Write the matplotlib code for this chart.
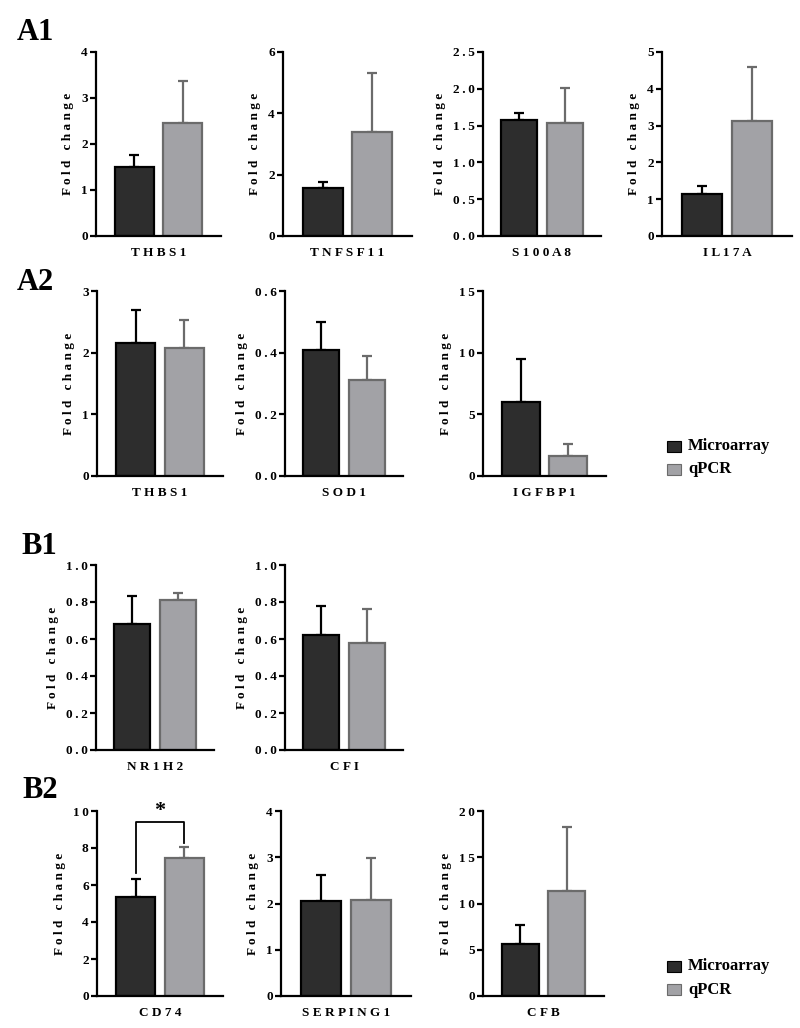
import matplotlib
matplotlib.use('Agg')
import matplotlib.pyplot as plt
from matplotlib.patches import Rectangle
import numpy as np

plt.rcParams['font.family'] = ['Liberation Serif', 'DejaVu Serif']
plt.rcParams['font.weight'] = 'bold'

# ---------------- data ----------------
genes = ['THBS1', 'TNFSF11', 'S100A8', 'IL17A',
         'THBS1', 'SOD1', 'IGFBP1',
         'NR1H2', 'CFI',
         'CD74', 'SERPING1', 'CFB']
series = ['Microarray', 'qPCR']
micro_mean = [1.50, 1.56, 1.57, 1.15, 2.15, 0.41, 6.0, 0.68, 0.62, 5.35, 2.05, 5.6]
micro_top = [1.76, 1.75, 1.67, 1.35, 2.70, 0.50, 9.5, 0.83, 0.78, 6.30, 2.62, 7.65]
qpcr_mean = [2.45, 3.38, 1.54, 3.12, 2.07, 0.31, 1.6, 0.81, 0.58, 7.45, 2.07, 11.3]
qpcr_top = [3.38, 5.30, 2.01, 4.60, 2.53, 0.39, 2.6, 0.85, 0.76, 8.05, 2.98, 18.3]
y_max = [4, 6, 2.5, 5, 3, 0.6, 15, 1.0, 1.0, 10, 4, 20]
y_step = [1, 2, 0.5, 1, 1, 0.2, 5, 0.2, 0.2, 2, 1, 5]
y_dec = [0, 0, 1, 0, 0, 1, 0, 1, 1, 0, 0, 0]
panel_labels = ['A1', 'A2', 'B1', 'B2']

# ---------------- layout (pixels: left, top, right, bottom) ----------------
W, H = 800, 1028
boxes = [(96, 52, 221, 236), (283, 52, 412, 236), (483, 52, 601, 236), (662, 52, 792, 236),
         (97, 291, 223, 476), (285, 291, 403, 476), (483, 291, 606, 476),
         (96, 565, 214, 750), (285, 565, 403, 750),
         (97, 811, 223, 996), (281, 811, 411, 996), (483, 811, 604, 996)]
label_pos = [(35, 33), (35, 283), (39, 547), (40, 791)]
legend_pos = [(667, 441), (667, 961)]

dark_fill, dark_edge = '#2d2d2d', '#000000'
grey_fill, grey_edge = '#a2a2a6', '#6b6b6b'

fig = plt.figure(figsize=(W / 100, H / 100), dpi=100)


def spaced(s, sep=' '):
    return sep.join(list(s))


for i, g in enumerate(genes):
    l, t, r, b = boxes[i]
    ax = fig.add_axes([l / W, 1 - b / H, (r - l) / W, (b - t) / H])
    xs = [0, 1]
    means = [micro_mean[i], qpcr_mean[i]]
    errs = [micro_top[i] - micro_mean[i], qpcr_top[i] - qpcr_mean[i]]
    fills = [dark_fill, grey_fill]
    edges = [dark_edge, grey_edge]
    for x, m, e, fc, ec in zip(xs, means, errs, fills, edges):
        ax.bar(x, m, width=0.8, color=fc, edgecolor=ec, linewidth=1.6, zorder=2)
        ax.errorbar(x, m, yerr=[[0], [e]], fmt='none', ecolor=ec, elinewidth=1.6,
                    capsize=3.8, capthick=1.6, zorder=1)
    ax.set_xlim(-0.8, 1.8)
    ax.set_ylim(0, y_max[i])
    ticks = np.arange(0, y_max[i] + y_step[i] / 2, y_step[i])
    ax.set_yticks(ticks)
    fmt = '{:.%df}' % y_dec[i]
    ax.set_yticklabels([spaced(fmt.format(v), '\u2009') for v in ticks],
                       fontsize=9.5, fontweight='bold')
    ax.set_xticks([])
    for side in ['top', 'right']:
        ax.spines[side].set_visible(False)
    for side in ['left', 'bottom']:
        ax.spines[side].set_linewidth(1.6)
    ax.tick_params(axis='y', direction='out', length=4, width=1.6, pad=2)
    ax.set_ylabel('F o l d   c h a n g e', fontsize=9.5, fontweight='bold', labelpad=5)
    ax.annotate(spaced(g), xy=(0.5, 0), xycoords='axes fraction', xytext=(0, -12.5),
                textcoords='offset points', ha='center', va='center',
                fontsize=9.5, fontweight='bold')
    if g == 'CD74':
        top = 9.4
        ax.plot([0, 0, 1, 1], [micro_top[i] + 0.35, top, top, qpcr_top[i] + 0.22],
                color='black', lw=1.3, zorder=3, clip_on=False)
        ax.text(0.5, top + 0.05, '*', ha='center', va='bottom', fontsize=16,
                fontweight='bold', clip_on=False)

for lab, (x, y) in zip(panel_labels, label_pos):
    fig.text(x / W, 1 - y / H, lab, ha='center', va='center', fontsize=22,
             fontweight='bold')

for (lx, ly) in legend_pos:
    for k, (name, fc, ec) in enumerate(zip(series, [dark_fill, grey_fill], [dark_edge, grey_edge])):
        yy = ly + k * 23
        fig.patches.append(Rectangle((lx / W, 1 - (yy + 11) / H), 14 / W, 11 / H,
                                     transform=fig.transFigure, facecolor=fc,
                                     edgecolor=ec, linewidth=0.8))
        fig.text((lx + 21) / W, 1 - (yy + 5.5) / H, name, ha='left', va='center',
                 fontsize=12, fontweight='bold')

fig.savefig('out.png', dpi=100)
